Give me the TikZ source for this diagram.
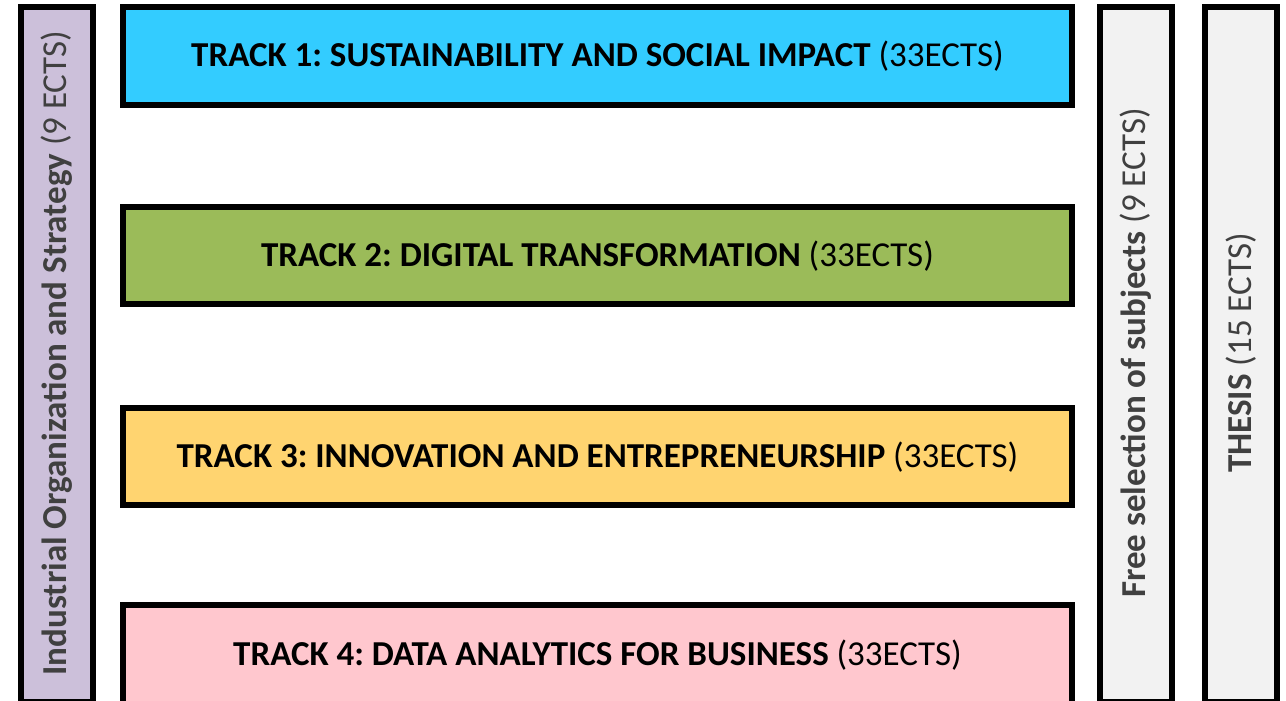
\documentclass[tikz,border=0pt]{standalone}
\usepackage{fontspec}
\setmainfont{Carlito}
\frenchspacing
\definecolor{tOne}{HTML}{33CCFF}
\definecolor{tTwo}{HTML}{9BBB59}
\definecolor{tThree}{HTML}{FFD470}
\definecolor{tFour}{HTML}{FFC7CE}
\definecolor{pur}{HTML}{CCC0DA}
\definecolor{lgray}{HTML}{F2F2F2}
\definecolor{dgray}{HTML}{404040}
\begin{document}
\begin{tikzpicture}[x=1pt,y=-1pt,
  box/.style={draw=black,line width=6pt},
  tracktext/.style={font=\fontsize{35}{40}\selectfont,text=black},
  sidetext/.style={font=\fontsize{35}{40}\selectfont,text=dgray,rotate=90}]
\useasboundingbox (0,0) rectangle (1286,701);
\begin{scope}
\clip (0,0) rectangle (1286,701);
\draw[box,fill=pur] (21,7) rectangle (93,702);
\draw[box,fill=tOne] (123,7) rectangle (1072,105);
\draw[box,fill=tTwo] (123,207) rectangle (1072,304);
\draw[box,fill=tThree] (123,408) rectangle (1072,505);
\draw[box,fill=tFour] (123,605) rectangle (1072,710);
\draw[box,fill=lgray] (1100,7) rectangle (1172,702);
\draw[box,fill=lgray] (1205,7) rectangle (1277,702);
\end{scope}
\node[sidetext] (ios) at (57,353) {\textbf{Industrial Organization and Strategy} (9 ECTS)};
\node[tracktext] (t1) at (597.5,56) {\textbf{TRACK 1: SUSTAINABILITY AND SOCIAL IMPACT} (33ECTS)};
\node[tracktext] (t2) at (597.5,256) {\textbf{TRACK 2: DIGITAL TRANSFORMATION} (33ECTS)};
\node[tracktext] (t3) at (597.5,457) {\textbf{TRACK 3: INNOVATION AND ENTREPRENEURSHIP} (33ECTS)};
\node[tracktext] (t4) at (597.5,655) {\textbf{TRACK 4: DATA ANALYTICS FOR BUSINESS} (33ECTS)};
\node[sidetext] (free) at (1136,353) {\textbf{Free selection of subjects} (9 ECTS)};
\node[sidetext] (thesis) at (1241,353) {\textbf{THESIS} (15 ECTS)};
\end{tikzpicture}
\end{document}
